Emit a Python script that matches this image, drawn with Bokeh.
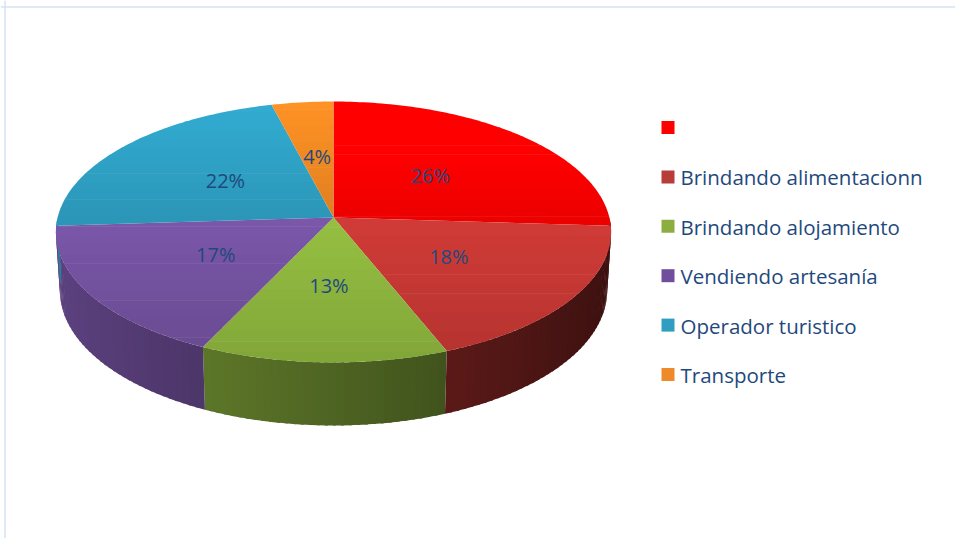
import numpy as np
from bokeh.plotting import figure
from bokeh.models import Range1d, Span
from bokeh.embed import file_html
from bokeh.resources import INLINE
from bokeh.core.properties import value

# ---------------- data ----------------
categories = ["", "Brindando alimentacionn", "Brindando alojamiento",
              "Vendiendo artesanía", "Operador turistico", "Transporte"]
shares = [26, 18, 13, 17, 22, 4]
pct_labels = ["26%", "18%", "13%", "17%", "22%", "4%"]
top_colors = ["#FF0000", "#C63834", "#8DB53E", "#7452A0", "#2FA2C6", "#F28A23"]
legend_colors = ["#FF0000", "#B83C38", "#8CAE40", "#6F4F9C", "#2F9EC0", "#EE8A2A"]

# ---------------- geometry ----------------
W, H = 955, 538
CX, CY = 333.0, 217.0          # pie centre (plot pixels)
F, D, SA, CA, DEPTH = 2196.0, 7.96, 0.467, 0.884, 0.242
TEXT_COLOR = "#1F497D"
FONT = "Open Sans"


def proj(phi_deg, y3=0.0, r=1.0):
    phi = np.radians(phi_deg)
    X = r * np.cos(phi)
    Z = r * np.sin(phi)
    yc = y3 * CA + Z * SA
    dep = D + Z * CA - y3 * SA
    return CX + F * X / dep, CY - F * yc / dep


def shade(hexcol, f):
    h = hexcol.lstrip("#")
    rgb = [int(h[i:i + 2], 16) for i in (0, 2, 4)]
    rgb = [max(0, min(255, int(round(c * f)))) for c in rgb]
    return "#%02x%02x%02x" % tuple(rgb)


def clip_half(pts, yv, keep_below):
    """Sutherland-Hodgman clip against horizontal line y=yv."""
    out = []
    n = len(pts)
    for i in range(n):
        cx_, cy_ = pts[i]
        px_, py_ = pts[i - 1]
        cin = (cy_ >= yv) if keep_below else (cy_ <= yv)
        pin = (py_ >= yv) if keep_below else (py_ <= yv)
        if cin:
            if not pin:
                t = (yv - py_) / (cy_ - py_)
                out.append((px_ + t * (cx_ - px_), yv))
            out.append((cx_, cy_))
        elif pin:
            t = (yv - py_) / (cy_ - py_)
            out.append((px_ + t * (cx_ - px_), yv))
    return out


total = float(sum(shares))
starts, ends = [], []
a = 90.0
for s in shares:
    starts.append(a)
    a -= 360.0 * s / total
    ends.append(a)

p = figure(width=W, height=H, x_range=Range1d(0, W), y_range=Range1d(H, 0),
           output_backend="svg", toolbar_location=None, min_border=0,
           x_axis_location=None, y_axis_location=None)
p.grid.visible = False
p.outline_line_color = None
p.background_fill_color = "white"
p.border_fill_color = "white"

# chart-area border (left and top edges visible in the reference)
p.add_layout(Span(location=4.5, dimension="height", line_color="#D6E2F3", line_width=1.5))
p.add_layout(Span(location=6.5, dimension="width", line_color="#D6E2F3", line_width=1.5))

# ---------------- side walls (front half only) ----------------
sxs, sys, scol = [], [], []
for st, en, col in zip(starts, ends, top_colors):
    lo, hi = max(en, -180.0), min(st, 0.0)
    if hi <= lo:
        continue
    n = max(2, int((hi - lo) / 1.5))
    edges = np.linspace(hi, lo, n + 1)
    for k, (a1, a2) in enumerate(zip(edges[:-1], edges[1:])):
        a2e = a2 - 0.6 if k < n - 1 else a2
        x1t, y1t = proj(a1, 0.0)
        x2t, y2t = proj(a2e, 0.0)
        x1b, y1b = proj(a1, -DEPTH)
        x2b, y2b = proj(a2e, -DEPTH)
        xn = np.cos(np.radians((a1 + a2) / 2))
        c = shade(col, 0.55 - 0.25 * xn)
        sxs.append([x1t, x2t, x2b, x1b])
        sys.append([y1t, y2t, y2b, y1b])
        scol.append(c)
p.patches(xs=sxs, ys=sys, fill_color=scol, line_color=None)

# ---------------- top faces (vertical gradient per slice) ----------------
txs, tys, tcol = [], [], []
NB = 14
for st, en, col in zip(starts, ends, top_colors):
    angs = np.linspace(st, en, max(3, int(abs(st - en) / 1.0)))
    xs, ys = proj(angs, 0.0)
    poly = [(CX, CY)] + list(zip(xs, ys))
    ymin = min(q[1] for q in poly)
    ymax = max(q[1] for q in poly)
    bands = np.linspace(ymin, ymax, NB + 1)
    for b in range(NB):
        y0 = bands[b] - (0.6 if b > 0 else 0)
        y1 = bands[b + 1]
        part = clip_half(poly, y0, True)
        if len(part) < 3:
            continue
        part = clip_half(part, y1, False)
        if len(part) < 3:
            continue
        t = (b + 0.5) / NB
        txs.append([q[0] for q in part])
        tys.append([q[1] for q in part])
        tcol.append(shade(col, 1.06 - 0.14 * t))
p.patches(xs=txs, ys=tys, fill_color=tcol, line_color=None)

# ---------------- percentage labels ----------------
mids = [(s + e) / 2 for s, e in zip(starts, ends)]
lx, ly = proj(np.array(mids), 0.0, r=0.5)
p.text(x=list(lx), y=list(ly), text=pct_labels, text_align="center",
       text_baseline="middle", text_color=TEXT_COLOR, text_font=value(FONT),
       text_font_size="20px")

# ---------------- legend ----------------
LX, LY0, LDY, SQ = 667.5, 127.0, 49.4, 13
idx = np.arange(len(categories))
leg_y = LY0 + idx * LDY
p.rect(x=[LX] * len(categories), y=list(leg_y), width=SQ, height=SQ,
       fill_color=legend_colors, line_color=None)
p.text(x=[LX + 12.5] * len(categories), y=list(leg_y + 0.5), text=categories,
       text_align="left", text_baseline="middle", text_color=TEXT_COLOR,
       text_font=value(FONT), text_font_size="20.5px")

open("out.html", "w").write(file_html(p, INLINE))
